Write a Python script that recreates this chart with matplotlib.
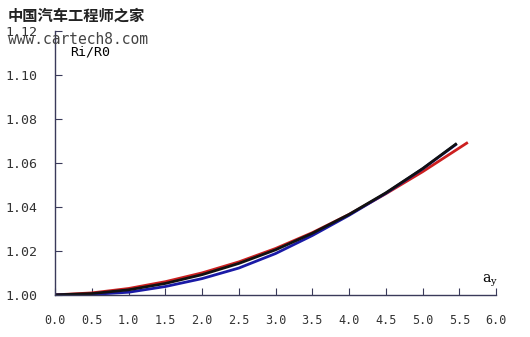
import numpy as np
import matplotlib.pyplot as plt

plt.rcParams['font.family'] = ['DejaVu Sans', 'Noto Sans CJK SC']

# Data
x_black = [0.0, 0.5, 1.0, 1.5, 2.0, 2.5, 3.0, 3.5, 4.0, 4.5, 5.0, 5.45]
y_black = [1.0000, 1.0006, 1.0023, 1.0052, 1.0092, 1.0143, 1.0205, 1.0280, 1.0366, 1.0464, 1.0574, 1.0685]

x_red = [0.0, 0.5, 1.0, 1.5, 2.0, 2.5, 3.0, 3.5, 4.0, 4.5, 5.0, 5.3, 5.6]
y_red = [1.0000, 1.0009, 1.0029, 1.0060, 1.0100, 1.0150, 1.0211, 1.0283, 1.0366, 1.0460, 1.0560, 1.0625, 1.0690]

x_blue = [0.0, 0.5, 1.0, 1.5, 2.0, 2.5, 3.0, 3.5, 4.0, 4.5, 5.0, 5.45]
y_blue = [1.0000, 1.0002, 1.0012, 1.0038, 1.0074, 1.0122, 1.0188, 1.0270, 1.0362, 1.0462, 1.0573, 1.0683]

xticks = np.arange(0, 6.01, 0.5)
yticks = [1.00, 1.02, 1.04, 1.06, 1.08, 1.10, 1.12]

fig = plt.figure(figsize=(5.3, 3.37), dpi=100)
ax = fig.add_axes([0.104, 0.125, 0.832, 0.783])

ax.plot(x_red, y_red, color='#cc1f1f', linewidth=2)
ax.plot(x_blue, y_blue, color='#1a1aa6', linewidth=2)
ax.plot(x_black, y_black, color='#111111', linewidth=2)

ax.set_xlim(0, 6.0)
ax.set_ylim(1.00, 1.12)
ax.set_xticks(xticks)
ax.set_xticklabels([f'{v:.1f}' for v in xticks], family='DejaVu Sans Mono')
ax.set_yticks(yticks)
ax.set_yticklabels([f'{v:.2f}' for v in yticks], family='DejaVu Sans Mono')

for s in ['top', 'right']:
    ax.spines[s].set_visible(False)
for s in ['left', 'bottom']:
    ax.spines[s].set_color('#3a3a5a')
    ax.spines[s].set_linewidth(1)

ax.tick_params(axis='both', direction='in', length=5, color='#3a3a5a',
               labelsize=9.5, labelcolor='#333333')
ax.tick_params(axis='x', labelsize=8.5, pad=14)
ax.tick_params(axis='y', pad=13)

ax.text(0.034, 0.92, 'Ri/R0', transform=ax.transAxes, fontsize=9.5,
        family='DejaVu Sans Mono', va='center')
ax.text(0.986, 0.055, r'a$_\mathregular{y}$', transform=ax.transAxes, fontsize=10,
        ha='center', va='center', family='DejaVu Serif')

# watermark
fig.text(0.015, 0.94, '中国汽车工程师之家', fontsize=11, fontweight='bold',
         family=['Noto Sans CJK SC', 'DejaVu Sans'], color='#222222')
fig.text(0.015, 0.87, 'www.cartech8.com', fontsize=10.5,
         family='DejaVu Sans Mono', color='#444444')

fig.savefig('out.png', dpi=100)
